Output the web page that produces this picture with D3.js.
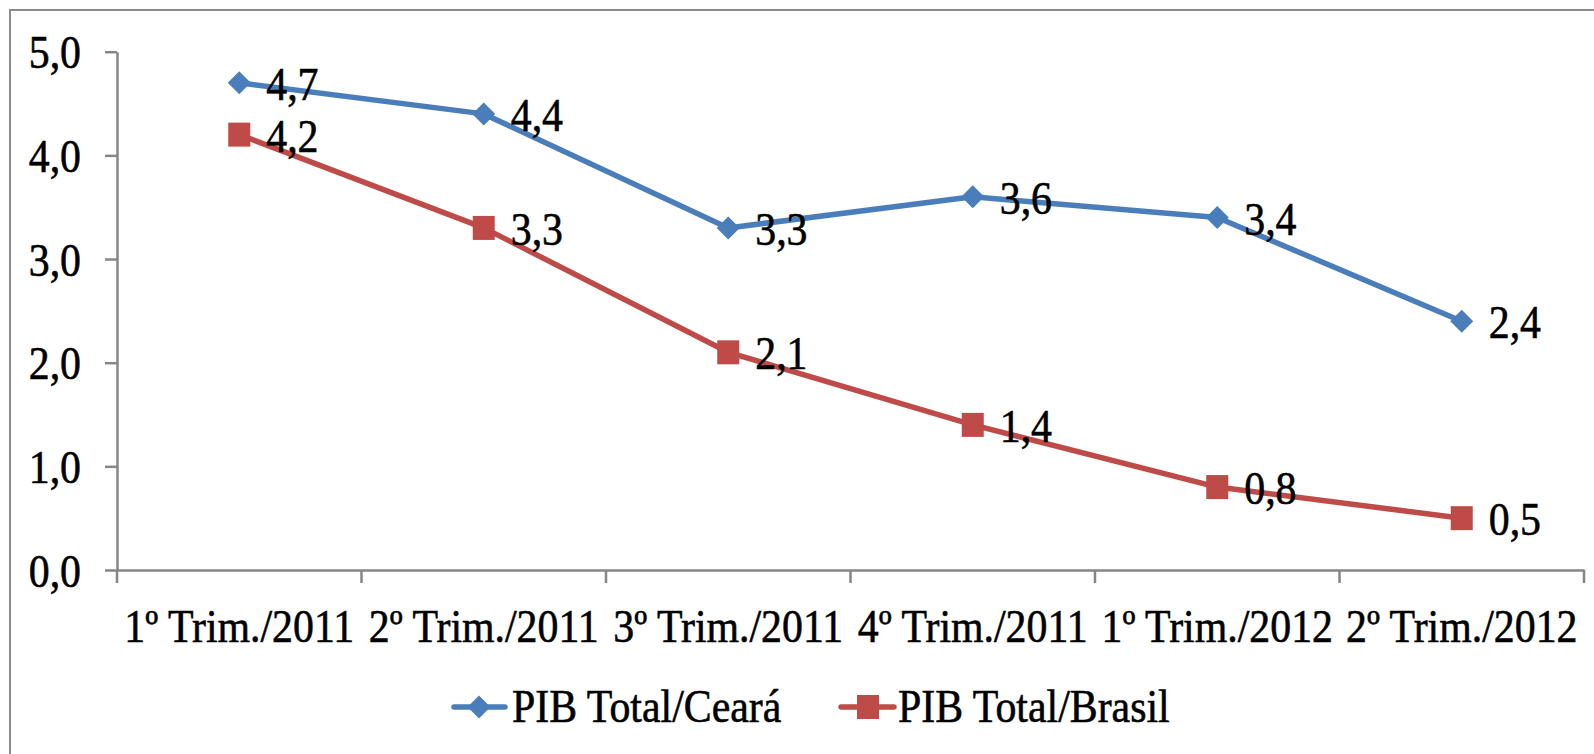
<!DOCTYPE html>
<html>
<head>
<meta charset="utf-8">
<script src="https://cdn.jsdelivr.net/npm/d3@7"></script>
<style>
  body { margin: 0; background: #fff; }
  svg { display: block; }
  svg text { font-family: "Liberation Serif", "Times New Roman", serif; fill: #000; stroke: #000; stroke-width: 0.6px; }
</style>
</head>
<body>
<svg id="chart" width="1594" height="754"></svg>
<script>
// data
const categories = ["1º Trim./2011", "2º Trim./2011", "3º Trim./2011", "4º Trim./2011", "1º Trim./2012", "2º Trim./2012"];
const ceara = [4.7, 4.4, 3.3, 3.6, 3.4, 2.4];
const brasil = [4.2, 3.3, 2.1, 1.4, 0.8, 0.5];
const yTicks = [0, 1, 2, 3, 4, 5];
const seriesNames = ["PIB Total/Ceará", "PIB Total/Brasil"];

const blue = "#4a7ebb", red = "#be4b48", axisColor = "#868686";
const fs = 47, sx = 0.89; // serif text looks a bit condensed in the original
const serif = "Liberation Serif, Times New Roman, serif";

const svg = d3.select("#chart");

// outer chart border (right/bottom run off the picture)
svg.append("rect")
	.attr("x", 10).attr("y", 10)
	.attr("width", 1620).attr("height", 800)
	.attr("fill", "none")
	.attr("stroke", "#8c8c8c")
	.attr("stroke-width", 2);

const plotLeft = 117, plotRight = 1584, plotTop = 51.7, plotBottom = 570;

const x = d3.scaleBand().domain(categories).range([plotLeft, plotRight]).padding(0);
const y = d3.scaleLinear().domain([0, 5]).range([plotBottom, plotTop]);
const cx = c => x(c) + x.bandwidth() / 2;

// y axis
const yAxis = svg.append("g")
	.attr("transform", "translate(" + plotLeft + ",0)")
	.call(d3.axisLeft(y).tickValues(yTicks).tickSize(12).tickSizeOuter(0)
		.tickFormat(d => d.toFixed(1).replace(".", ",")))
	.attr("font-family", serif);
yAxis.select(".domain").attr("stroke", axisColor).attr("stroke-width", 2.5);
yAxis.selectAll(".tick line").attr("stroke", axisColor).attr("stroke-width", 2.5);
yAxis.selectAll(".tick text")
	.attr("x", -36 / sx)
	.attr("y", 16)
	.attr("dy", null)
	.attr("transform", "scale(" + sx + ",1)")
	.style("font-size", fs + "px")
	.attr("fill", "#000");

// x axis: labels centred in bands, ticks on band boundaries
const xAxis = svg.append("g")
	.attr("transform", "translate(0," + plotBottom + ")")
	.call(d3.axisBottom(x).tickSize(0).tickSizeOuter(0))
	.attr("font-family", serif);
xAxis.select(".domain").attr("stroke", axisColor).attr("stroke-width", 2.5);
xAxis.selectAll(".tick text")
	.attr("y", 72)
	.attr("dy", null)
	.attr("transform", "scale(" + sx + ",1)")
	.style("font-size", fs + "px")
	.attr("fill", "#000");

const bounds = categories.map(c => x(c)).concat([plotRight]);
xAxis.selectAll(".bound")
	.data(bounds)
	.join("line")
	.attr("class", "bound")
	.attr("x1", d => d).attr("x2", d => d)
	.attr("y1", 0).attr("y2", 13)
	.attr("stroke", axisColor)
	.attr("stroke-width", 2.5);

// lines
const line = d3.line().x(d => cx(d.c)).y(d => y(d.v));
const cearaPts = categories.map((c, i) => ({ c: c, v: ceara[i] }));
const brasilPts = categories.map((c, i) => ({ c: c, v: brasil[i] }));

svg.append("path").datum(cearaPts)
	.attr("d", line).attr("fill", "none")
	.attr("stroke", blue).attr("stroke-width", 5.5).attr("stroke-linejoin", "round");
svg.append("path").datum(brasilPts)
	.attr("d", line).attr("fill", "none")
	.attr("stroke", red).attr("stroke-width", 5.5).attr("stroke-linejoin", "round");

const diamond = "M0,-11.5L11.5,0L0,11.5L-11.5,0Z";

svg.selectAll(".mk-ce").data(cearaPts).join("path")
	.attr("class", "mk-ce")
	.attr("d", diamond)
	.attr("transform", d => "translate(" + cx(d.c) + "," + y(d.v) + ")")
	.attr("fill", blue);
svg.selectAll(".mk-br").data(brasilPts).join("rect")
	.attr("class", "mk-br")
	.attr("x", d => cx(d.c) - 11).attr("y", d => y(d.v) - 12)
	.attr("width", 22).attr("height", 24)
	.attr("fill", red);

// data labels
function labels(pts, cls) {
	svg.selectAll("." + cls).data(pts).join("text")
		.attr("class", cls)
		.attr("transform", d => "translate(" + (cx(d.c) + 27) + "," + (y(d.v) + 17) + ") scale(" + sx + ",1)")
		.style("font-size", fs + "px")
		.text(d => d.v.toFixed(1).replace(".", ","));
}
labels(cearaPts, "lb-ce");
labels(brasilPts, "lb-br");

// legend
const legend = svg.append("g");
const ly = 707;
legend.append("line").attr("x1", 454).attr("x2", 505).attr("y1", ly).attr("y2", ly)
	.attr("stroke", blue).attr("stroke-width", 5.5).attr("stroke-linecap", "round");
legend.append("path").attr("d", diamond).attr("transform", "translate(479," + ly + ")").attr("fill", blue);
legend.append("text").attr("transform", "translate(512,722) scale(" + sx + ",1)")
	.style("font-size", fs + "px").text(seriesNames[0]);

legend.append("line").attr("x1", 841).attr("x2", 894).attr("y1", ly).attr("y2", ly)
	.attr("stroke", red).attr("stroke-width", 5.5).attr("stroke-linecap", "round");
legend.append("rect").attr("x", 857).attr("y", ly - 12).attr("width", 22).attr("height", 24).attr("fill", red);
legend.append("text").attr("transform", "translate(898,722) scale(" + sx + ",1)")
	.style("font-size", fs + "px").text(seriesNames[1]);
</script>
</body>
</html>
